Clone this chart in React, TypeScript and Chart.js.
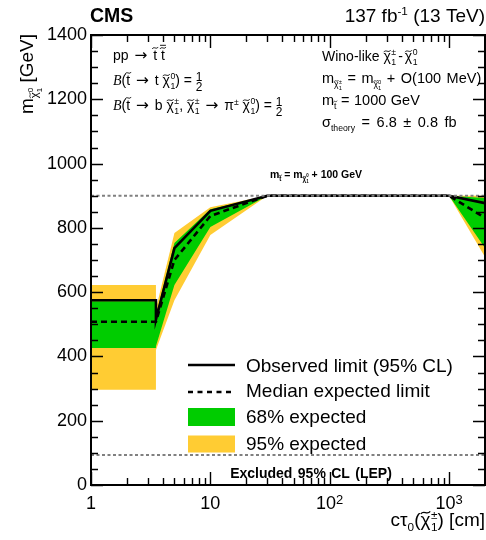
import React, { useEffect, useRef } from 'react';
import { Chart, registerables } from 'chart.js';

Chart.register(...registerables);

// ---------------- data ----------------
const X_POINTS = [1, 3.5, 3.5, 5, 10, 30, 100, 1000, 2000];
const OBSERVED = [575, 575, 515, 737, 853, 900, 900, 900, 877];
const EXPECTED = [508, 508, 508, 700, 837, 900, 900, 900, 831];
const GREEN_UP = [572, 572, 528, 753, 858, 900, 900, 900, 893];
const GREEN_DN = [426, 426, 432, 622, 803, 900, 900, 900, 737];
const YELLOW_UP = [622, 622, 548, 784, 864, 900, 900, 900, 900];
const YELLOW_DN = [296, 296, 420, 575, 778, 900, 900, 900, 709];

const LINE_X = [1, 2000];
const KINEMATIC_Y = [900, 900];
const LEP_Y = [93, 93];

const X_MIN = 1;
const X_MAX = 2000;
const Y_MIN = 0;
const Y_MAX = 1400;

const X_MAJOR = [1, 10, 100, 1000];
const X_TICK_LABELS = ['1', '10', '10', '10'];
const X_TICK_EXPONENTS = ['', '', '2', '3'];
const X_MINOR: number[] = [];
for (const d of [1, 10, 100, 1000]) {
  for (let m = 2; m <= 9; m++) if (m * d <= X_MAX) X_MINOR.push(m * d);
}
const Y_MAJOR = [0, 200, 400, 600, 800, 1000, 1200, 1400];
const Y_MINOR: number[] = [];
for (let v = 50; v < Y_MAX; v += 50) if (v % 200 !== 0) Y_MINOR.push(v);

const LEGEND_LABELS = [
  'Observed limit (95% CL)',
  'Median expected limit',
  '68% expected',
  '95% expected',
];

const GREEN = '#00cc00';
const YELLOW = '#ffcc33';
const GRAY = '#808080';

// ---------------- rich text helpers ----------------
const SANS = '"Liberation Sans", Arial, Helvetica, sans-serif';
const SERIF = '"Liberation Serif", "Times New Roman", serif';
const DEJAVU = '"DejaVu Sans", sans-serif';

type Seg = {
  t: string;
  s?: number;
  dy?: number;
  it?: boolean;
  serif?: boolean;
  fam?: string;
  b?: boolean;
  tl?: number;
  bar?: number;
  pl?: number;
  pr?: number;
};
type Stack = { stack: Seg[]; center?: boolean };
type Part = Seg | Stack;

function segFont(seg: Seg, size: number, bold: boolean) {
  const sz = size * (seg.s ?? 1);
  const fam = seg.fam ? seg.fam : seg.serif ? SERIF : SANS;
  return `${seg.it ? 'italic ' : ''}${(seg.b ?? bold) ? 'bold ' : ''}${sz}px ${fam}`;
}
function textW(ctx: CanvasRenderingContext2D, t: string, ws: number) {
  const n = (t.match(/ /g) || []).length;
  return ctx.measureText(t).width + n * ws;
}
function segW(ctx: CanvasRenderingContext2D, s: Seg, size: number, bold: boolean, ws: number) {
  ctx.font = segFont(s, size, bold);
  return (s.pl ?? 0) + textW(ctx, s.t, ws) + (s.pr ?? 0);
}
function partWidth(ctx: CanvasRenderingContext2D, p: Part, size: number, bold: boolean, ws: number) {
  if ('stack' in p) return Math.max(...p.stack.map((s) => segW(ctx, s, size, bold, ws)));
  return segW(ctx, p, size, bold, ws);
}
function drawTilde(ctx: CanvasRenderingContext2D, xc: number, yc: number, w: number, fs: number) {
  const tw = Math.max(w * 0.95, fs * 0.42);
  const a = Math.max(0.9, fs * 0.07);
  const x0 = xc - tw / 2;
  ctx.beginPath();
  ctx.lineWidth = Math.max(0.7, fs * 0.065);
  ctx.moveTo(x0, yc + a);
  ctx.bezierCurveTo(x0 + tw * 0.3, yc - 2.2 * a, x0 + tw * 0.7, yc + 2.2 * a, x0 + tw, yc - a);
  ctx.stroke();
}
function drawSeg(ctx: CanvasRenderingContext2D, s: Seg, x: number, y: number, size: number, bold: boolean, ws: number, color: string) {
  ctx.font = segFont(s, size, bold);
  const fs = size * (s.s ?? 1);
  const yy = y + (s.dy ?? 0);
  let cx = x + (s.pl ?? 0);
  const startX = cx;
  if (ws === 0) {
    ctx.fillText(s.t, cx, yy);
  } else {
    const words = s.t.split(' ');
    const sp = ctx.measureText(' ').width + ws;
    words.forEach((w, i) => {
      if (w) ctx.fillText(w, cx, yy);
      cx += ctx.measureText(w).width;
      if (i < words.length - 1) cx += sp;
    });
  }
  const gw = ctx.measureText(s.t).width;
  ctx.strokeStyle = color;
  if (s.tl) drawTilde(ctx, startX + gw / 2, yy - fs * s.tl, gw, fs);
  if (s.bar) {
    const tw = Math.max(gw * 0.95, fs * 0.42);
    ctx.beginPath();
    ctx.lineWidth = Math.max(0.7, fs * 0.065);
    ctx.moveTo(startX + gw / 2 - tw / 2, yy - fs * s.bar);
    ctx.lineTo(startX + gw / 2 + tw / 2, yy - fs * s.bar);
    ctx.stroke();
  }
}
function drawRich(
  ctx: CanvasRenderingContext2D,
  parts: Part[],
  x: number,
  y: number,
  size: number,
  align: 'left' | 'right' | 'center' = 'left',
  bold = false,
  ws = 0,
  color = '#000'
) {
  const widths = parts.map((p) => partWidth(ctx, p, size, bold, ws));
  const total = widths.reduce((a, b) => a + b, 0);
  let cx = align === 'left' ? x : align === 'right' ? x - total : x - total / 2;
  ctx.fillStyle = color;
  ctx.textBaseline = 'alphabetic';
  ctx.textAlign = 'left';
  parts.forEach((p, i) => {
    const segs = 'stack' in p ? p.stack : [p];
    segs.forEach((s) => {
      const w = segW(ctx, s, size, bold, ws);
      const off = 'stack' in p && p.center ? (widths[i] - w) / 2 : 0;
      drawSeg(ctx, s, cx + off, y, size, bold, ws, color);
    });
    cx += widths[i];
  });
}

const chi = (s?: number, dy?: number): Seg => ({ t: '\u03C7', s, dy, tl: 0.7 });
const stop = (s?: number, dy?: number): Seg => ({ t: 't', s, dy, tl: 0.86 });
const astop = (): Seg => ({ t: 't', tl: 0.86, bar: 1.05 });
const arrow: Seg = { t: '\u2192', fam: DEJAVU, s: 1.1, pl: 2, pr: 2 };

const chiStack = (sup: string): Stack => ({
  stack: [
    { t: sup, s: 0.62, dy: -6.5, pl: 0.5 },
    { t: '1', s: 0.62, dy: 4, pl: 0.5 },
  ],
});
const half: Stack = {
  center: true,
  stack: [
    { t: '1', s: 0.85, dy: -4 },
    { t: '2', s: 0.85, dy: 6 },
  ],
};

const LEFT_LINES: Part[][] = [
  [{ t: 'pp ' }, arrow, { t: ' ' }, stop(), { t: ' ' }, astop()],
  [{ t: 'B', it: true, serif: true }, { t: '(' }, stop(), { t: ' ' }, arrow, { t: ' t ' }, chi(), chiStack('0'), { t: ') = ' }, half],
  [
    { t: 'B', it: true, serif: true },
    { t: '(' },
    stop(),
    { t: ' ' },
    arrow,
    { t: ' b ' },
    chi(),
    chiStack('\u00B1'),
    { t: ', ' },
    chi(),
    chiStack('\u00B1'),
    { t: ' ' },
    arrow,
    { t: ' \u03C0' },
    { t: '\u00B1', s: 0.62, dy: -5 },
    { t: ' ' },
    chi(),
    chiStack('0'),
    { t: ') = ' },
    half,
  ],
];

const smallChi = (sup: string): Part[] => [
  chi(0.6, 4),
  {
    stack: [
      { t: sup, s: 0.4, dy: 1 },
      { t: '1', s: 0.4, dy: 7 },
    ],
  },
];

const RIGHT_LINES: Part[][] = [
  [{ t: 'Wino-like ' }, chi(), chiStack('\u00B1'), { t: '-', pl: 2, pr: 2 }, chi(), chiStack('0')],
  [{ t: 'm' }, ...smallChi('\u00B1'), { t: ' = m' }, ...smallChi('0'), { t: ' + O(100 MeV)' }],
  [{ t: 'm' }, stop(0.6, 4), { t: ' = 1000 GeV' }],
  [{ t: '\u03C3' }, { t: 'theory', s: 0.6, dy: 4 }, { t: ' = 6.8 \u00B1 0.8 fb' }],
];
const RIGHT_SIZE = [14, 14.5, 14.5, 14.5];
const RIGHT_WS = [0, 1.5, 0.5, 2.5];

const decorPlugin = {
  id: 'cmsDecor',
  beforeDraw(chart: any) {
    const ctx = chart.ctx as CanvasRenderingContext2D;
    ctx.save();
    ctx.fillStyle = '#fff';
    ctx.fillRect(0, 0, chart.width, chart.height);
    ctx.restore();
  },
  afterDraw(chart: any) {
    const ctx = chart.ctx as CanvasRenderingContext2D;
    const a = chart.chartArea;
    const xs = chart.scales.x;
    const ys = chart.scales.y;
    ctx.save();

    // ticks
    ctx.strokeStyle = '#000';
    ctx.lineWidth = 1.4;
    const vt = (v: number, len: number) => {
      const px = Math.round(xs.getPixelForValue(v)) + 0.5;
      ctx.beginPath();
      ctx.moveTo(px, a.bottom);
      ctx.lineTo(px, a.bottom - len);
      ctx.moveTo(px, a.top);
      ctx.lineTo(px, a.top + len);
      ctx.stroke();
    };
    const ht = (v: number, len: number) => {
      const py = Math.round(ys.getPixelForValue(v)) + 0.5;
      ctx.beginPath();
      ctx.moveTo(a.left, py);
      ctx.lineTo(a.left + len, py);
      ctx.moveTo(a.right, py);
      ctx.lineTo(a.right - len, py);
      ctx.stroke();
    };
    X_MAJOR.forEach((v) => vt(v, 13));
    X_MINOR.forEach((v) => vt(v, 7));
    Y_MAJOR.forEach((v) => ht(v, 12));
    Y_MINOR.forEach((v) => ht(v, 7));

    // frame
    ctx.lineWidth = 2;
    ctx.strokeRect(a.left, a.top, a.right - a.left, a.bottom - a.top);

    // x tick labels
    X_MAJOR.forEach((v, i) => {
      const px = xs.getPixelForValue(v);
      const parts: Part[] = [{ t: X_TICK_LABELS[i] }];
      if (X_TICK_EXPONENTS[i]) parts.push({ t: X_TICK_EXPONENTS[i], s: 0.72, dy: -5 });
      drawRich(ctx, parts, px, 509, 18, 'center');
    });

    // axis titles
    drawRich(
      ctx,
      [
        { t: 'c\u03C4' },
        { t: '0', s: 0.62, dy: 5 },
        { t: '(' },
        chi(),
        {
          stack: [
            { t: '\u00B1', s: 0.62, dy: -7.5, pl: 0.5 },
            { t: '1', s: 0.62, dy: 5, pl: 0.5 },
          ],
        },
        { t: ') [cm]' },
      ],
      485,
      526,
      19,
      'right'
    );
    ctx.save();
    ctx.translate(33, 34);
    ctx.rotate(-Math.PI / 2);
    drawRich(
      ctx,
      [
        { t: 'm' },
        chi(0.6, 5),
        {
          stack: [
            { t: '0', s: 0.42, dy: 0 },
            { t: '1', s: 0.42, dy: 9 },
          ],
        },
        { t: ' [GeV]' },
      ],
      0,
      0,
      19,
      'right'
    );
    ctx.restore();

    // header
    drawRich(ctx, [{ t: 'CMS' }], 90, 22, 19.5, 'left', true);
    drawRich(ctx, [{ t: '137 fb' }, { t: '-1', s: 0.62, dy: -7 }, { t: ' (13 TeV)' }], 485, 22, 19, 'right');

    // annotation blocks
    const leftBase = [60, 85, 110];
    LEFT_LINES.forEach((ln, i) => drawRich(ctx, ln, 113, leftBase[i], 14));
    const rightBase = [61, 83, 105, 127];
    RIGHT_LINES.forEach((ln, i) => drawRich(ctx, ln, 322, rightBase[i], RIGHT_SIZE[i], 'left', false, RIGHT_WS[i]));

    // kinematic label
    drawRich(
      ctx,
      [
        { t: 'm' },
        stop(0.6, 3),
        { t: ' = m' },
        chi(0.6, 3),
        {
          stack: [
            { t: '0', s: 0.42, dy: -1 },
            { t: '1', s: 0.42, dy: 5 },
          ],
        },
        { t: ' + 100 GeV' },
      ],
      316,
      178,
      10.5,
      'center',
      true
    );
    drawRich(ctx, [{ t: 'Excluded 95% CL (LEP)' }], 311, 478, 14, 'center', true, 1.5);

    // legend
    const lx0 = 188;
    const lx1 = 235;
    ctx.strokeStyle = '#000';
    ctx.lineWidth = 2.5;
    ctx.setLineDash([]);
    ctx.beginPath();
    ctx.moveTo(lx0, 365);
    ctx.lineTo(lx1, 365);
    ctx.stroke();
    ctx.setLineDash([5, 4.5]);
    ctx.beginPath();
    ctx.moveTo(lx0, 392);
    ctx.lineTo(lx1, 392);
    ctx.stroke();
    ctx.setLineDash([]);
    ctx.fillStyle = GREEN;
    ctx.fillRect(lx0, 408, lx1 - lx0, 18);
    ctx.fillStyle = YELLOW;
    ctx.fillRect(lx0, 435.5, lx1 - lx0, 17);
    const lb = [372, 397, 423, 450];
    LEGEND_LABELS.forEach((t, i) => drawRich(ctx, [{ t }], 246, lb[i], 19));

    ctx.restore();
  },
};

const pts = (xs: number[], ys: number[]) => xs.map((x, i) => ({ x, y: ys[i] }));

export default function App() {
  const ref = useRef<HTMLCanvasElement | null>(null);
  useEffect(() => {
    if (!ref.current) return;
    const base = { pointRadius: 0, pointHoverRadius: 0, tension: 0 };
    const chart = new Chart(ref.current, {
      type: 'line',
      data: {
        datasets: [
          { ...base, label: 'Observed', data: pts(X_POINTS, OBSERVED), borderColor: '#000', borderWidth: 2.6, fill: false, order: 1 },
          { ...base, label: 'Expected', data: pts(X_POINTS, EXPECTED), borderColor: '#000', borderWidth: 2.6, borderDash: [6, 4], fill: false, order: 1 },
          { ...base, label: 'Kinematic', data: pts(LINE_X, KINEMATIC_Y), borderColor: GRAY, borderWidth: 2, borderDash: [3, 2.5], fill: false, order: 0 },
          { ...base, label: 'LEP', data: pts(LINE_X, LEP_Y), borderColor: GRAY, borderWidth: 2, borderDash: [3, 2.5], fill: false, order: 0 },
          { ...base, label: 'G up', data: pts(X_POINTS, GREEN_UP), borderColor: 'rgba(0,0,0,0)', borderWidth: 0, backgroundColor: GREEN, fill: 5, order: 2 },
          { ...base, label: 'G dn', data: pts(X_POINTS, GREEN_DN), borderColor: 'rgba(0,0,0,0)', borderWidth: 0, fill: false, order: 2 },
          { ...base, label: 'Y up', data: pts(X_POINTS, YELLOW_UP), borderColor: 'rgba(0,0,0,0)', borderWidth: 0, backgroundColor: YELLOW, fill: 7, order: 3 },
          { ...base, label: 'Y dn', data: pts(X_POINTS, YELLOW_DN), borderColor: 'rgba(0,0,0,0)', borderWidth: 0, fill: false, order: 3 },
        ],
      },
      options: {
        responsive: false,
        animation: false,
        layout: { padding: { top: 35, right: 1, left: 0, bottom: 0 } },
        plugins: { legend: { display: false }, tooltip: { enabled: false } },
        events: [],
        scales: {
          x: {
            type: 'logarithmic',
            min: X_MIN,
            max: X_MAX,
            grid: { display: false },
            border: { display: false },
            ticks: { display: false },
            afterFit: (s: any) => {
              s.height = 55;
            },
          },
          y: {
            type: 'linear',
            min: Y_MIN,
            max: Y_MAX,
            grid: { display: false, drawTicks: false },
            border: { display: false },
            afterBuildTicks: (s: any) => {
              s.ticks = Y_MAJOR.map((v) => ({ value: v }));
            },
            ticks: {
              color: '#000',
              padding: 4,
              font: { family: SANS, size: 18 },
              callback: (v: any) => String(v),
            },
            afterFit: (s: any) => {
              s.width = 91;
            },
          },
        },
      } as any,
      plugins: [decorPlugin],
    });
    return () => chart.destroy();
  }, []);
  return (
    <div style={{ position: 'absolute', left: 0, top: 0, width: 486, height: 540, background: '#fff' }}>
      <canvas ref={ref} width={486} height={540} style={{ display: 'block' }} />
    </div>
  );
}
